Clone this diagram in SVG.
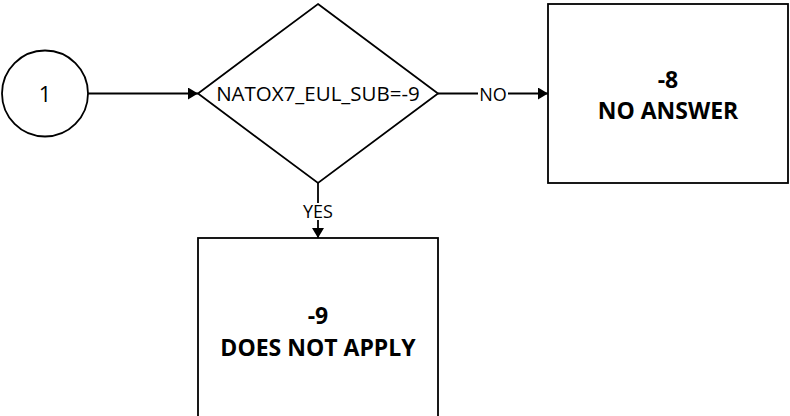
<svg xmlns="http://www.w3.org/2000/svg" width="790" height="416" viewBox="0 0 790 416">
<style>
.shape{fill:#fff;stroke:#000;stroke-width:1.8}
.t{font-family:"Open Sans","Liberation Sans",sans-serif;fill:#000;text-anchor:middle}
.b{font-weight:bold;font-size:23px}
.lbl{font-size:18px}
.edge{fill:none;stroke:#000;stroke-width:1.8}
</style>
<defs>
<marker id="arr" viewBox="0 0 10 12" refX="10" refY="6" markerWidth="10" markerHeight="12" markerUnits="userSpaceOnUse" orient="auto">
<path d="M0,0 L10,6 L0,12 z" fill="#000"/>
</marker>
</defs>
<rect width="790" height="416" fill="#fff"/>
<g id="connectors">
<line class="edge" x1="88" y1="93.5" x2="198" y2="93.5" marker-end="url(#arr)"/>
<line class="edge" x1="438" y1="93.5" x2="548" y2="93.5" marker-end="url(#arr)"/>
<rect x="478" y="85" width="30" height="18" fill="#fff"/>
<text class="t lbl" x="493" y="101">NO</text>
<line class="edge" x1="318" y1="183" x2="318" y2="238" marker-end="url(#arr)"/>
<rect x="302" y="203" width="32" height="17" fill="#fff"/>
<text class="t lbl" x="318" y="218">YES</text>
</g>
<g id="start">
<circle class="shape" cx="45" cy="93.5" r="43"/>
<text class="t" x="45" y="102" font-size="22">1</text>
</g>
<g id="decision">
<polygon class="shape" points="318,4 438,93.5 318,183 198,93.5"/>
<text class="t" x="318" y="101" font-size="20.5">NATOX7_EUL_SUB=-9</text>
</g>
<g id="noanswer">
<rect class="shape" x="548" y="4" width="240" height="179"/>
<text class="t b" x="668" y="88">-8</text>
<text class="t b" x="668" y="119">NO ANSWER</text>
</g>
<g id="doesnotapply">
<rect class="shape" x="198" y="238" width="240" height="190"/>
<text class="t b" x="318" y="324">-9</text>
<text class="t b" x="318" y="356">DOES NOT APPLY</text>
</g>
</svg>
